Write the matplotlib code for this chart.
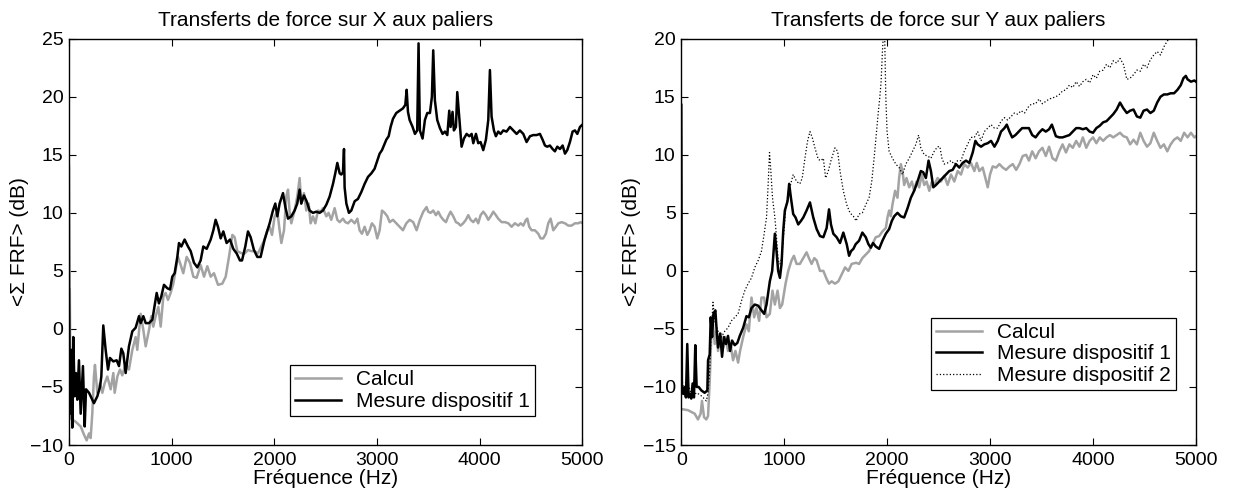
import numpy as np
import matplotlib
matplotlib.use("Agg")
import matplotlib.pyplot as plt

plt.rcParams['font.family'] = ['Liberation Sans', 'DejaVu Sans']

# ---- Transferts sur X ----
fx_calc = [0, 16, 65, 114, 146, 172, 195, 211, 227, 243, 253, 276, 302, 325, 347, 373, 406, 432, 445, 471,
           497, 519, 552, 584, 617, 649, 665, 698, 724, 747, 779, 802, 821, 844, 870, 893, 919, 941, 964, 990,
           1016, 1039, 1061, 1081, 1113, 1146, 1178, 1211, 1243, 1282, 1315, 1347, 1380, 1412, 1451, 1493,
           1526, 1558, 1591, 1613, 1639, 1685, 1711, 1743, 1776, 1808, 1840, 1873, 1905, 1931, 1954, 1977,
           2003, 2029, 2051, 2068, 2094, 2116, 2133, 2149, 2165, 2197, 2223, 2246, 2262, 2288, 2311, 2334,
           2353, 2376, 2399, 2425, 2451, 2473, 2506, 2528, 2554, 2587, 2613, 2636, 2668, 2691, 2717, 2749,
           2782, 2808, 2830, 2853, 2879, 2905, 2928, 2950, 2976, 3002, 3025, 3048, 3074, 3100, 3123, 3155,
           3187, 3220, 3252, 3285, 3317, 3352, 3385, 3417, 3450, 3482, 3498, 3521, 3547, 3573, 3596, 3619,
           3645, 3671, 3693, 3716, 3742, 3768, 3791, 3813, 3839, 3865, 3888, 3911, 3937, 3963, 3985, 4008,
           4034, 4060, 4083, 4106, 4132, 4157, 4180, 4213, 4245, 4278, 4310, 4342, 4375, 4398, 4424, 4450,
           4463, 4482, 4505, 4537, 4570, 4592, 4618, 4644, 4667, 4690, 4716, 4742, 4765, 4797, 4830, 4862,
           4894, 4927, 4959, 4982, 5000]
x_calc = [14.0, -7.7, -8.0, -8.4, -9.1, -9.6, -9.0, -9.4, -7.3, -4.1, -3.1, -5.5, -4.7, -5.5, -4.7, -4.1, -5.2,
          -3.8, -5.5, -4.1, -3.5, -4.0, -3.0, -3.5, -1.8, -0.7, -1.8, 1.3, -0.1, -1.5, -0.1, 1.1, 0.2, 1.1, 1.9,
          0.2, 2.8, 3.1, 2.5, 3.1, 3.9, 5.1, 6.2, 5.7, 4.8, 6.2, 5.7, 4.5, 4.4, 5.5, 4.5, 5.4, 4.5, 4.8, 3.8,
          3.9, 4.5, 6.2, 8.1, 7.9, 6.7, 6.5, 6.5, 6.8, 6.7, 6.7, 6.5, 7.1, 7.7, 8.5, 8.8, 8.1, 9.7, 10.1, 8.5,
          7.4, 8.5, 11.4, 12.0, 10.0, 9.1, 10.2, 11.4, 13.0, 10.8, 11.7, 10.2, 10.8, 9.1, 9.7, 9.1, 10.2, 10.1,
          10.4, 9.7, 10.0, 9.4, 10.4, 9.4, 9.2, 9.5, 9.2, 9.1, 9.4, 9.1, 9.5, 8.5, 8.2, 8.8, 8.1, 8.5, 9.1,
          8.8, 7.8, 8.5, 10.2, 10.0, 9.7, 9.2, 9.4, 9.1, 8.8, 8.5, 9.1, 9.4, 9.2, 8.5, 9.4, 10.1, 10.5, 10.1,
          10.0, 10.2, 9.8, 10.1, 9.7, 9.4, 9.2, 9.7, 10.1, 9.7, 9.2, 9.1, 8.9, 9.1, 9.4, 9.8, 9.4, 9.2, 9.5,
          9.1, 9.8, 10.1, 9.8, 9.4, 9.7, 10.1, 9.8, 9.5, 9.2, 9.2, 9.1, 8.8, 9.1, 8.9, 9.1, 8.9, 9.4, 9.5,
          8.8, 8.5, 8.5, 8.2, 7.8, 7.8, 8.2, 9.1, 9.5, 8.5, 8.8, 9.1, 9.2, 9.1, 8.9, 8.9, 9.1, 9.1, 9.2, 9.1]

fx_mes1 = [0, 10, 23, 32, 42, 55, 68, 81, 97, 114, 136, 153, 166, 195, 243, 276, 302, 315, 334, 357, 380, 399,
           432, 464, 487, 510, 529, 552, 584, 617, 649, 682, 698, 724, 747, 779, 812, 854, 876, 899, 925, 958,
           984, 1006, 1029, 1055, 1071, 1094, 1126, 1159, 1185, 1217, 1250, 1282, 1308, 1341, 1380, 1406, 1428,
           1451, 1477, 1503, 1535, 1568, 1600, 1633, 1665, 1685, 1717, 1743, 1769, 1801, 1834, 1866, 1905,
           1954, 1986, 2009, 2029, 2051, 2084, 2107, 2133, 2165, 2197, 2223, 2246, 2262, 2288, 2314, 2343,
           2376, 2408, 2441, 2473, 2506, 2538, 2571, 2593, 2613, 2636, 2652, 2668, 2678, 2684, 2701, 2726,
           2749, 2782, 2814, 2847, 2879, 2912, 2944, 2976, 3002, 3025, 3048, 3067, 3090, 3113, 3132, 3155,
           3187, 3220, 3252, 3275, 3288, 3301, 3317, 3346, 3369, 3391, 3404, 3417, 3443, 3466, 3489, 3515,
           3534, 3547, 3563, 3586, 3612, 3638, 3661, 3684, 3703, 3716, 3735, 3748, 3768, 3781, 3800, 3823,
           3846, 3872, 3898, 3921, 3937, 3963, 3985, 4008, 4034, 4060, 4083, 4099, 4115, 4138, 4157, 4180,
           4203, 4229, 4261, 4294, 4326, 4359, 4391, 4424, 4456, 4489, 4521, 4553, 4586, 4612, 4635, 4657,
           4683, 4709, 4732, 4755, 4781, 4807, 4830, 4852, 4878, 4904, 4927, 4950, 4976, 5000]
x_mes1 = [3.4, -7.3, -1.8, -8.5, -0.7, -5.8, -3.8, -6.1, -2.7, -7.3, -3.2, -8.4, -5.2, -5.5, -6.4, -5.8, -5.0,
          -4.1, 0.3, -1.8, -3.5, -2.5, -2.8, -2.7, -3.2, -1.7, -2.1, -3.8, -1.5, -0.2, 0.1, 1.1, 0.5, 1.1, 0.5,
          0.5, 0.8, 3.1, 2.2, 2.8, 3.8, 3.5, 3.4, 4.5, 4.8, 6.2, 7.4, 7.1, 7.7, 7.1, 6.7, 5.7, 5.3, 5.9, 7.1,
          6.9, 7.7, 8.5, 9.4, 8.8, 7.8, 8.4, 7.4, 7.7, 6.9, 6.5, 5.9, 5.9, 7.1, 8.4, 7.9, 6.8, 6.2, 6.2, 7.7,
          9.1, 10.2, 10.8, 9.7, 10.8, 11.7, 10.5, 9.5, 9.7, 10.2, 10.8, 12.0, 10.8, 11.5, 11.0, 10.2, 10.0,
          10.1, 10.0, 10.2, 10.7, 11.4, 12.5, 13.4, 14.3, 13.4, 13.3, 13.5, 15.5, 12.2, 10.8, 10.0, 10.2,
          11.0, 11.2, 11.8, 12.5, 13.1, 13.4, 13.8, 14.5, 15.1, 15.4, 15.8, 16.3, 16.6, 17.4, 18.1, 18.6,
          18.8, 19.0, 19.3, 20.6, 18.7, 18.0, 17.4, 16.8, 17.1, 24.6, 17.1, 16.4, 18.0, 18.6, 18.6, 20.0,
          24.0, 19.7, 18.0, 17.3, 16.8, 17.0, 16.7, 18.8, 17.4, 18.7, 17.1, 17.4, 20.4, 18.3, 15.7, 16.4,
          16.8, 16.6, 16.8, 16.0, 16.8, 16.0, 16.1, 15.4, 16.3, 18.0, 22.3, 18.3, 17.1, 16.6, 17.0, 16.8,
          17.1, 17.0, 17.4, 17.1, 16.8, 17.1, 16.8, 16.1, 16.6, 16.7, 16.7, 16.8, 16.3, 15.8, 15.7, 15.8,
          15.5, 15.3, 15.7, 15.5, 15.8, 15.1, 15.4, 16.1, 17.0, 17.1, 16.8, 17.4, 17.6]

# ---- Transferts sur Y ----
fy_calc = [0, 65, 130, 162, 188, 201, 221, 243, 260, 276, 292, 308, 325, 341, 357, 383, 406, 428, 454, 480,
           503, 526, 552, 571, 601, 633, 656, 682, 708, 730, 756, 779, 805, 828, 860, 886, 909, 935, 958, 980,
           1013, 1039, 1071, 1094, 1120, 1152, 1185, 1217, 1240, 1266, 1292, 1315, 1347, 1380, 1412, 1435,
           1461, 1493, 1526, 1558, 1591, 1623, 1655, 1698, 1727, 1759, 1792, 1824, 1857, 1889, 1922, 1954,
           1987, 2003, 2019, 2035, 2051, 2077, 2100, 2116, 2133, 2149, 2165, 2188, 2214, 2240, 2262, 2285,
           2311, 2337, 2360, 2383, 2409, 2435, 2457, 2490, 2522, 2555, 2587, 2620, 2652, 2685, 2717, 2749,
           2782, 2814, 2847, 2870, 2895, 2928, 2954, 2977, 2999, 3025, 3058, 3090, 3123, 3155, 3188, 3220,
           3253, 3285, 3317, 3350, 3377, 3409, 3442, 3475, 3508, 3541, 3573, 3606, 3639, 3672, 3704, 3737,
           3770, 3803, 3836, 3868, 3901, 3934, 3967, 4000, 4032, 4065, 4098, 4131, 4164, 4196, 4229, 4262,
           4295, 4328, 4360, 4393, 4426, 4459, 4491, 4524, 4557, 4590, 4623, 4655, 4688, 4721, 4754, 4787,
           4820, 4852, 4885, 4918, 4951, 4984, 5000]
y_calc = [-11.9, -12.0, -12.3, -12.8, -12.3, -11.2, -12.6, -12.8, -12.5, -9.5, -5.4, -4.6, -6.3, -5.2, -6.9,
          -5.4, -6.6, -5.7, -6.9, -6.4, -7.7, -6.9, -7.9, -6.9, -5.7, -4.6, -5.2, -2.3, -4.0, -3.2, -4.3, -2.3,
          -2.3, -4.0, -3.7, -1.7, -2.9, -1.7, -3.2, -2.9, -1.1, 0.0, 0.9, 1.3, 0.6, 0.6, 1.1, 1.6, 1.1, 0.6,
          1.1, 0.9, 0.0, 0.0, -0.7, -1.1, -0.9, -1.1, -0.9, -0.3, 0.3, 0.0, 0.6, 0.7, 0.6, 1.1, 1.4, 1.7, 2.3,
          2.9, 3.0, 3.4, 3.7, 4.6, 5.2, 4.7, 5.7, 6.9, 6.3, 8.0, 9.2, 8.6, 7.4, 8.0, 7.2, 7.7, 6.9, 7.7, 7.2,
          8.3, 7.4, 7.7, 6.9, 7.7, 7.4, 8.0, 7.7, 8.2, 7.4, 8.3, 7.7, 8.6, 8.3, 9.2, 8.9, 9.3, 8.6, 9.3, 8.6,
          8.9, 8.0, 7.2, 8.3, 9.0, 8.9, 9.2, 8.9, 8.7, 9.0, 9.2, 8.7, 9.2, 9.9, 10.0, 9.5, 10.3, 9.7, 10.3,
          10.6, 9.9, 10.7, 9.7, 9.5, 10.3, 10.9, 10.2, 10.9, 10.6, 11.2, 10.7, 11.5, 10.6, 11.2, 11.5, 11.0,
          11.5, 11.2, 11.5, 11.7, 11.5, 11.7, 11.9, 11.6, 11.5, 10.9, 11.3, 10.9, 11.9, 11.2, 10.7, 11.0,
          11.9, 11.2, 10.6, 10.9, 10.3, 10.9, 11.3, 11.5, 11.2, 11.9, 11.5, 11.9, 11.5, 11.6]

fy_mes1 = [0, 6, 19, 32, 45, 58, 71, 84, 97, 110, 123, 136, 149, 169, 195, 227, 253, 260, 276, 286, 299, 312,
           331, 344, 357, 377, 396, 415, 435, 454, 474, 493, 519, 545, 568, 601, 633, 656, 682, 714, 747, 779,
           805, 828, 860, 883, 909, 925, 941, 958, 974, 990, 1006, 1032, 1048, 1065, 1087, 1110, 1136, 1162,
           1185, 1217, 1250, 1282, 1315, 1347, 1380, 1412, 1435, 1454, 1477, 1509, 1542, 1574, 1607, 1630,
           1649, 1672, 1694, 1727, 1759, 1792, 1818, 1841, 1863, 1889, 1922, 1954, 1987, 2019, 2045, 2068,
           2100, 2133, 2165, 2198, 2230, 2262, 2295, 2327, 2350, 2376, 2402, 2425, 2448, 2474, 2506, 2538,
           2571, 2603, 2636, 2668, 2701, 2733, 2766, 2798, 2831, 2857, 2879, 2912, 2944, 2977, 3009, 3042,
           3074, 3106, 3139, 3162, 3188, 3214, 3246, 3278, 3311, 3343, 3377, 3409, 3442, 3475, 3508, 3541,
           3573, 3600, 3623, 3639, 3672, 3704, 3737, 3770, 3803, 3836, 3868, 3901, 3934, 3967, 4000, 4032,
           4065, 4098, 4131, 4164, 4196, 4229, 4262, 4295, 4328, 4360, 4393, 4426, 4459, 4491, 4524, 4557,
           4590, 4623, 4655, 4688, 4721, 4754, 4787, 4820, 4852, 4878, 4901, 4918, 4951, 4984, 5000]
y_mes1 = [14.3, -10.3, -10.6, -10.0, -10.9, -6.3, -10.9, -10.6, -11.0, -9.7, -10.9, -6.4, -10.0, -10.0, -10.3,
          -10.5, -10.3, -7.7, -7.2, -4.0, -5.7, -3.7, -3.4, -5.2, -6.6, -5.4, -7.4, -5.7, -6.3, -5.6, -6.9,
          -6.0, -6.4, -6.2, -5.6, -4.9, -3.9, -4.0, -3.2, -2.9, -3.0, -3.4, -3.7, -2.9, -0.9, 0.0, 3.2, 1.7,
          0.0, -0.6, 0.6, 3.4, 5.2, 6.0, 7.5, 6.3, 4.9, 4.6, 4.0, 4.3, 4.6, 5.2, 5.9, 4.6, 3.6, 3.0, 2.9, 3.7,
          5.3, 4.0, 3.2, 2.9, 2.4, 3.3, 2.3, 1.3, 1.7, 1.9, 2.3, 2.6, 3.3, 2.9, 2.3, 2.0, 2.4, 2.1, 1.9, 2.6,
          3.2, 3.6, 4.3, 4.7, 5.0, 4.7, 4.6, 5.4, 6.3, 6.9, 7.7, 8.6, 8.5, 8.0, 9.5, 8.6, 7.2, 7.4, 7.7, 8.0,
          8.3, 8.6, 8.7, 9.2, 8.9, 9.3, 9.5, 9.3, 10.2, 11.2, 10.9, 10.7, 10.9, 11.0, 11.2, 10.7, 11.2, 12.0,
          12.3, 12.6, 12.0, 11.5, 11.7, 12.0, 12.3, 12.3, 12.3, 11.7, 11.5, 11.9, 12.2, 12.0, 12.2, 12.6,
          12.0, 11.6, 11.5, 11.5, 11.6, 11.7, 12.0, 12.3, 12.3, 12.2, 12.3, 12.0, 11.9, 12.3, 12.5, 12.8,
          12.9, 13.2, 13.5, 13.9, 14.5, 14.0, 13.6, 13.8, 13.9, 13.3, 13.2, 13.8, 13.9, 13.6, 13.8, 14.5,
          15.0, 15.2, 15.2, 15.3, 15.3, 15.6, 16.0, 16.6, 16.8, 16.5, 16.3, 16.4, 16.3]

fy_mes2 = [0, 30, 60, 100, 150, 200, 243, 260, 276, 292, 308, 325, 357, 390, 422, 454, 487, 519, 552, 584, 617,
           649, 682, 714, 747, 779, 805, 828, 844, 857, 870, 886, 909, 925, 941, 958, 974, 1000, 1013, 1032,
           1055, 1087, 1120, 1152, 1175, 1201, 1227, 1250, 1272, 1298, 1331, 1357, 1380, 1402, 1428, 1454,
           1493, 1519, 1542, 1574, 1607, 1639, 1672, 1698, 1727, 1759, 1792, 1824, 1850, 1873, 1896, 1915,
           1928, 1941, 1954, 1967, 1975, 1987, 1999, 2019, 2051, 2084, 2116, 2149, 2181, 2214, 2246, 2279,
           2305, 2327, 2360, 2392, 2425, 2457, 2490, 2512, 2532, 2555, 2587, 2620, 2652, 2685, 2717, 2749,
           2782, 2814, 2847, 2879, 2912, 2944, 2977, 3009, 3042, 3074, 3106, 3139, 3171, 3204, 3236, 3269,
           3301, 3334, 3377, 3409, 3442, 3475, 3508, 3541, 3573, 3606, 3639, 3672, 3704, 3737, 3770, 3803,
           3836, 3868, 3901, 3934, 3967, 4000, 4032, 4065, 4098, 4131, 4164, 4196, 4229, 4262, 4295, 4328,
           4360, 4393, 4426, 4459, 4491, 4524, 4557, 4590, 4623, 4655, 4688, 4721, 4754, 4800, 4900, 5000]
y_mes2 = [-9.0, -10.5, -9.5, -10.8, -10.5, -10.8, -11.2, -10.5, -8.6, -5.2, -2.7, -4.3, -5.2, -5.7, -5.2, -4.9,
          -4.3, -4.0, -3.7, -2.6, -1.7, -1.1, -0.6, 0.3, 0.9, 1.7, 3.2, 4.6, 7.5, 10.2, 8.6, 6.3, 4.6, 2.9,
          0.9, 0.6, 1.1, 3.7, 5.2, 6.3, 7.2, 8.3, 7.7, 7.5, 8.0, 9.7, 11.2, 12.0, 11.5, 10.6, 9.6, 9.5, 9.7,
          8.0, 8.6, 9.5, 10.6, 10.3, 8.6, 6.9, 5.7, 5.0, 4.7, 4.3, 4.9, 5.0, 5.7, 6.3, 7.7, 9.7, 12.0, 13.8,
          14.9, 16.3, 18.9, 21.0, 20.5, 14.9, 12.0, 10.3, 9.7, 9.2, 8.9, 8.3, 9.2, 9.7, 10.3, 10.9, 11.7,
          10.6, 10.0, 9.9, 9.7, 10.3, 10.7, 10.7, 9.7, 9.2, 9.3, 9.5, 9.2, 9.5, 9.5, 10.3, 10.9, 11.5, 11.5,
          12.0, 11.2, 12.0, 12.3, 12.6, 12.3, 12.3, 12.9, 13.2, 13.0, 13.3, 13.6, 13.5, 13.8, 13.6, 14.2,
          14.4, 14.4, 14.8, 14.4, 14.6, 14.8, 14.9, 15.0, 15.2, 15.5, 15.6, 16.0, 15.8, 16.3, 15.9, 16.3,
          16.5, 16.2, 16.9, 16.6, 17.2, 17.3, 17.8, 17.5, 18.1, 17.9, 18.3, 17.8, 16.5, 16.6, 16.9, 17.3,
          17.2, 17.8, 17.5, 18.2, 18.6, 18.9, 18.6, 19.3, 19.8, 20.1, 20.6, 21.2, 21.8]

gray = '#a3a3a3'
fs_tick = 14
fs_text = 15

fig = plt.figure(figsize=(12.34, 4.92), dpi=100)
ax1 = fig.add_axes([0.0559, 0.0955, 0.4161, 0.8258])
ax2 = fig.add_axes([0.5521, 0.0955, 0.4171, 0.8258])

leg_style = dict(loc='lower right', borderaxespad=0, fontsize=fs_text, fancybox=False,
                 edgecolor='black', framealpha=1, handlelength=2.2, borderpad=0.25,
                 labelspacing=0.12, handletextpad=0.7)

ax1.plot(fx_calc, x_calc, color=gray, lw=1.8, label='Calcul')
ax1.plot(fx_mes1, x_mes1, color='black', lw=1.8, label='Mesure dispositif 1')
ax1.set_ylim(-10, 25)
ax1.set_yticks(np.arange(-10, 26, 5))
ax1.set_title('Transferts de force sur X aux paliers', fontsize=fs_text, pad=9)
ax1.legend(bbox_to_anchor=(0.9075, 0.0714), **leg_style)

ax2.plot(fy_calc, y_calc, color=gray, lw=1.8, label='Calcul')
ax2.plot(fy_mes1, y_mes1, color='black', lw=1.8, label='Mesure dispositif 1')
ax2.plot(fy_mes2, y_mes2, color='black', lw=0.9, ls=':', label='Mesure dispositif 2')
ax2.set_ylim(-15, 20)
ax2.set_yticks(np.arange(-15, 21, 5))
ax2.set_title('Transferts de force sur Y aux paliers', fontsize=fs_text, pad=9)
ax2.legend(bbox_to_anchor=(0.961, 0.135), **leg_style)

for ax in (ax1, ax2):
    ax.set_xlim(0, 5000)
    ax.set_xticks([0, 1000, 2000, 3000, 4000, 5000])
    ax.tick_params(direction='in', top=True, right=True, length=5, width=0.8,
                   labelsize=fs_tick)
    ax.tick_params(axis='x', pad=5)
    ax.tick_params(axis='y', pad=4)
    ax.set_xlabel('Fréquence (Hz)', fontsize=fs_text, labelpad=0)
    ax.set_ylabel('<Σ FRF> (dB)', fontsize=fs_text, labelpad=1)
    for s in ax.spines.values():
        s.set_linewidth(1.0)
    ax.get_legend().get_frame().set_linewidth(0.9)

fig.savefig('out.png', dpi=100)
